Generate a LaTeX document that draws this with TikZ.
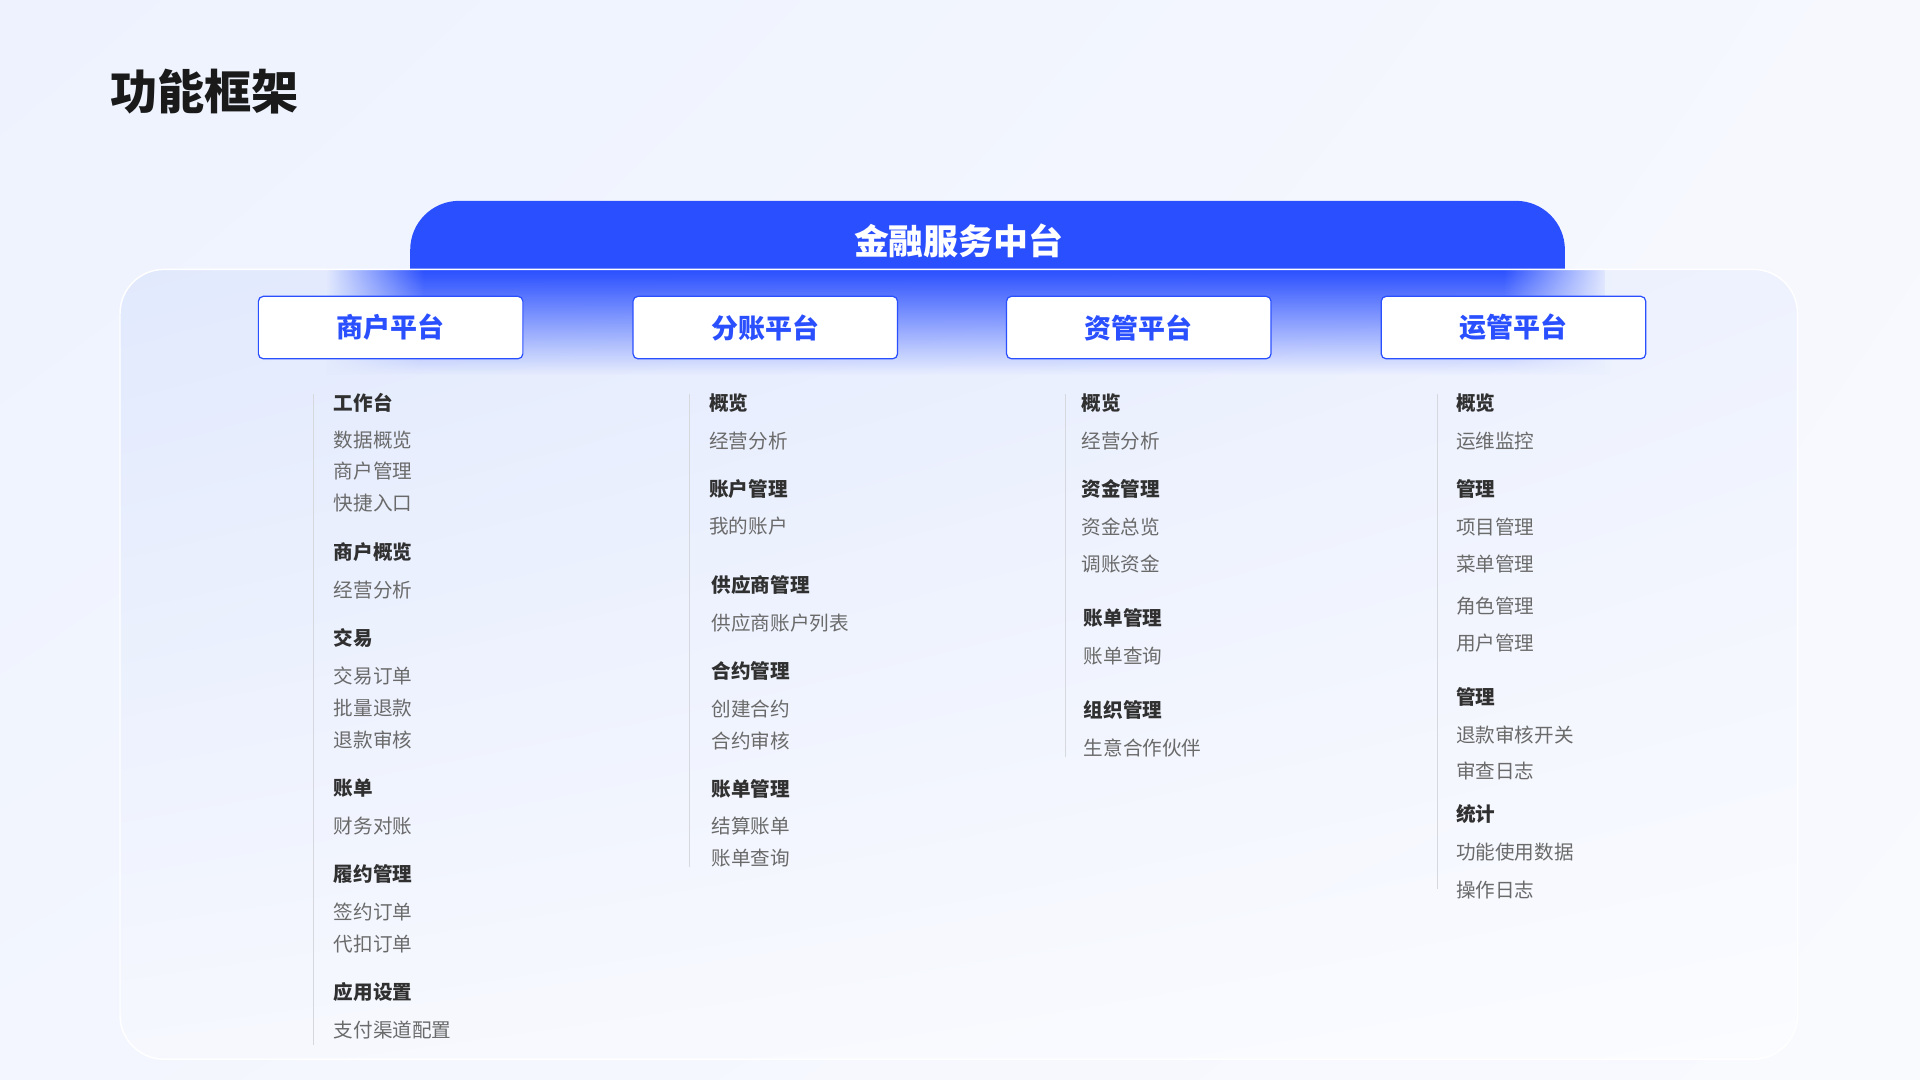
\documentclass[tikz,border=0pt]{standalone}
\usepackage{fontspec}
\setmainfont{Noto Sans CJK SC}
\usetikzlibrary{fadings,shadings}
\definecolor{tabblue}{HTML}{2A4FFF}
\definecolor{titlec}{HTML}{1A1A1A}
\definecolor{headc}{HTML}{303030}
\definecolor{itemc}{HTML}{6A6A6A}
\definecolor{linec}{HTML}{D6D8DE}
\definecolor{bgA}{HTML}{EDF2FE}
\definecolor{bgB}{HTML}{F6F8FE}
\definecolor{bgC}{HTML}{F3F6FE}
\definecolor{bgD}{HTML}{F9FAFE}
\definecolor{pA}{HTML}{E1E9FD}
\definecolor{pB}{HTML}{EEF2FE}
\definecolor{pC}{HTML}{F6F8FE}
\definecolor{pD}{HTML}{FBFCFF}
\definecolor{pL}{HTML}{E4EBFD}
\definecolor{pR}{HTML}{ECF1FE}
\tikzfading[name=glowdown, top color=transparent!0, middle color=transparent!35, bottom color=transparent!100]
\tikzfading[name=opaqueleft, left color=transparent!0, right color=transparent!100]
\tikzfading[name=opaqueright, left color=transparent!100, right color=transparent!0]
\begin{document}
\begin{tikzpicture}[x=1pt,y=-1pt,
  hdtxt/.style={anchor=west, inner sep=0pt, font=\bfseries\fontsize{16}{16}\selectfont, text=headc},
  ittxt/.style={anchor=west, inner sep=0pt, font=\fontsize{16}{16}\selectfont, text=itemc},
  plat/.style={draw=tabblue, line width=1pt, fill=white, rounded corners=4pt, minimum width=216pt, minimum height=51pt, inner sep=0pt, font=\bfseries\fontsize{22}{22}\selectfont, text=tabblue},
  colline/.style={draw=linec, line width=1pt}]
% background
\shade[upper left=bgA, upper right=bgB, lower left=bgC, lower right=bgD] (0,0) rectangle (1568,881.2);
\useasboundingbox (0,0) rectangle (1568,881.2);
% title
\node[anchor=west, inner sep=0pt, font=\bfseries\fontsize{38.5}{38.5}\selectfont, text=titlec] (title) at (90,75) {功能框架};
% tab
\fill[tabblue] (335,221) [rounded corners=40pt] -- (335,164) -- (1278,164) [sharp corners] -- (1278,221) -- cycle;
\node[inner sep=0pt, font=\bfseries\fontsize{28.5}{28.5}\selectfont, text=white] (hub) at (783,197) {金融服务中台};
% panel
\shade[rounded corners=36pt, upper left=pA, upper right=pB, lower left=pC, lower right=pD] (98,220) rectangle (1468,865);
% glow
\fill[tabblue, path fading=glowdown] (268,220) rectangle (1314,306);
\fill[pL, path fading=opaqueleft] (266,219.5) rectangle (346,306.5);
\fill[pR, path fading=opaqueright] (1228,219.5) rectangle (1316,306.5);
\draw[white, line width=1.2pt, rounded corners=36pt] (98,220) rectangle (1468,865);
% platform boxes
\node[plat] (p1) at (319,267.5) {\raisebox{-1.5pt}{商户平台}};
\node[plat] (p2) at (625,267.5) {\raisebox{-1.5pt}{分账平台}};
\node[plat] (p3) at (930,267.5) {\raisebox{-1.5pt}{资管平台}};
\node[plat] (p4) at (1236,267.5) {\raisebox{-1.5pt}{运管平台}};
% column lines
\coordinate (l1t) at (256,322); \coordinate (l1b) at (256,853);
\coordinate (l2t) at (563,322); \coordinate (l2b) at (563,708);
\coordinate (l3t) at (870,322); \coordinate (l3b) at (870,618);
\coordinate (l4t) at (1174,322); \coordinate (l4b) at (1174,726);
\draw[colline] (l1t) -- (l1b);
\draw[colline] (l2t) -- (l2b);
\draw[colline] (l3t) -- (l3b);
\draw[colline] (l4t) -- (l4b);
% column 1
\foreach \s/\y/\t [count=\i] in {hdtxt/329/工作台, ittxt/359/数据概览, ittxt/385/商户管理, ittxt/411/快捷入口,
  hdtxt/451/商户概览, ittxt/482/经营分析, hdtxt/521/交易, ittxt/552/交易订单, ittxt/578/批量退款, ittxt/604/退款审核,
  hdtxt/644/账单, ittxt/675/财务对账, hdtxt/714/履约管理, ittxt/745/签约订单, ittxt/771/代扣订单,
  hdtxt/810/应用设置, ittxt/841/支付渠道配置}
  \node[\s] (a\i) at (272.5,\y) {\t};
% column 2
\foreach \s/\x/\y/\t [count=\i] in {hdtxt/579/329/概览, ittxt/579/360/经营分析, hdtxt/579/399/账户管理, ittxt/579/430/我的账户,
  hdtxt/581/478/供应商管理, ittxt/581/509/供应商账户列表, hdtxt/581/548/合约管理, ittxt/581/579/创建合约, ittxt/581/605/合约审核,
  hdtxt/581/644/账单管理, ittxt/581/675/结算账单, ittxt/581/701/账单查询}
  \node[\s] (b\i) at (\x,\y) {\t};
% column 3
\foreach \s/\x/\y/\t [count=\i] in {hdtxt/883/329/概览, ittxt/883/360/经营分析, hdtxt/883/399/资金管理, ittxt/883/430/资金总览,
  ittxt/883/461/调账资金, hdtxt/885/505/账单管理, ittxt/885/536/账单查询, hdtxt/885/580/组织管理, ittxt/885/611/生意合作伙伴}
  \node[\s] (c\i) at (\x,\y) {\t};
% column 4
\foreach \s/\y/\t [count=\i] in {hdtxt/329/概览, ittxt/360/运维监控, hdtxt/399/管理, ittxt/430/项目管理, ittxt/461/菜单管理,
  ittxt/495/角色管理, ittxt/525/用户管理, hdtxt/569/管理, ittxt/600/退款审核开关, ittxt/630/审查日志,
  hdtxt/665/统计, ittxt/696/功能使用数据, ittxt/727/操作日志}
  \node[\s] (d\i) at (1189,\y) {\t};
\end{tikzpicture}
\end{document}
